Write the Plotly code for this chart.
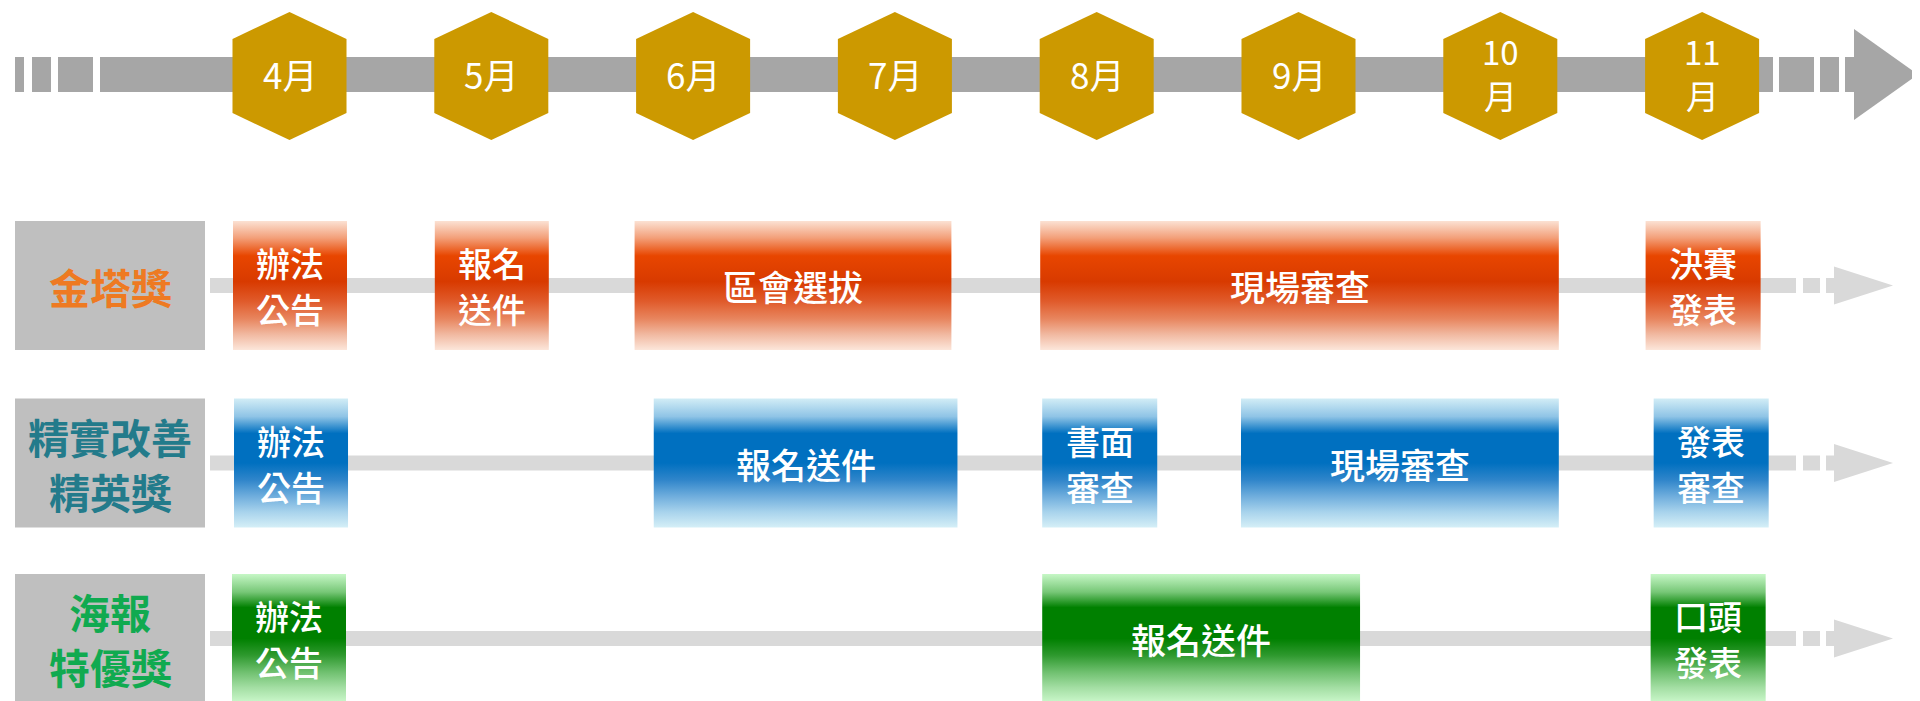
import plotly.graph_objects as go

# ---------------- data ----------------
months = [4, 5, 6, 7, 8, 9, 10, 11]
month_labels = ["4月", "5月", "6月", "7月", "8月", "9月", "10月", "11月"]

award_labels = ["金塔獎", "精實改善\n精英獎", "海報\n特優獎"]

gold_tasks = ["辦法公告", "報名送件", "區會選拔", "現場審查", "決賽發表"]
gold_start = [3.72, 4.72, 5.71, 7.72, 10.72]
gold_end = [4.285, 5.285, 7.28, 10.29, 11.29]

lean_tasks = ["辦法公告", "報名送件", "書面審查", "現場審查", "發表審查"]
lean_start = [3.725, 5.805, 7.73, 8.715, 10.76]
lean_end = [4.29, 7.31, 8.30, 10.29, 11.33]

poster_tasks = ["辦法公告", "報名送件", "口頭發表"]
poster_start = [3.715, 7.73, 10.745]
poster_end = [4.28, 9.305, 11.315]

# ---------------- layout / style ----------------
W, H = 1920, 701
PAGE_MARGIN = 8          # default body margin of the html page
PX_PER_MONTH = 201.8
FIRST_PX = 289.5
FONT = "Noto Sans CJK TC"


def px2m(px):
    return months[0] + (px - FIRST_PX) / PX_PER_MONTH


GOLD = "#CC9900"
TL_GRAY = "#A6A6A6"
ROW_GRAY = "#D9D9D9"
LABEL_BG = "#BFBFBF"
label_colors = ["#EE7A22", "#237B8B", "#10AA50"]


def flip(cs):
    return [[1 - p, c] for p, c in reversed(cs)]


grad_orange = flip([[0, "#FBE1D3"], [0.13, "#F3A07A"], [0.27, "#E84600"], [0.47, "#D83A00"],
                    [0.62, "#E05A2A"], [0.76, "#E8865F"], [0.88, "#F1B9A1"], [1, "#FCE6DA"]])
grad_blue = flip([[0, "#D2EDF6"], [0.14, "#8FC4E6"], [0.27, "#0070C0"], [0.5, "#0070C0"],
                  [0.63, "#2F85CA"], [0.76, "#70AEDD"], [0.88, "#A8D3EC"], [1, "#D5EFF7"]])
grad_green = flip([[0, "#C6F7C6"], [0.14, "#77C777"], [0.26, "#008000"], [0.5, "#008000"],
                   [0.63, "#2E992E"], [0.76, "#6FC06F"], [0.88, "#A3DEA3"], [1, "#CCF8CC"]])

rows = [
    (gold_tasks, gold_start, gold_end, grad_orange),
    (lean_tasks, lean_start, lean_end, grad_blue),
    (poster_tasks, poster_start, poster_end, grad_green),
]
row_centers = [285.5, 463, 638.5]
BOX_HH = 64.5

TL_Y, TL_HH = 74.5, 17.5
HEX_Y, HEX_HW, HEX_TOP, HEX_SH = 76, 0.2825, 64, 37

fig = go.Figure()
shapes = []
annotations = []


def rect(x0, x1, y0, y1, color, layer="below"):
    return dict(type="rect", xref="x", yref="y", x0=x0, x1=x1, y0=y0, y1=y1,
                fillcolor=color, line=dict(width=0), layer=layer)


def tri(x0, x1, yc, hh, color):
    return dict(type="path", xref="x", yref="y",
                path=f"M {x0},{yc-hh} L {x1},{yc} L {x0},{yc+hh} Z",
                fillcolor=color, line=dict(width=0), layer="below")


def text_lines(x, yc, lines, pitch, font):
    """one annotation per line, centred as a block on yc"""
    n = len(lines)
    for i, ln in enumerate(lines):
        annotations.append(dict(x=x, y=yc + (i - (n - 1) / 2) * pitch, xref="x", yref="y",
                                text=ln, showarrow=False, font=font))


# ---- top timeline ----
for a, b in [(15, 24), (32, 51), (58, 93), (100, 1773), (1779, 1814), (1820, 1839), (1845, 1854)]:
    shapes.append(rect(px2m(a), px2m(b), TL_Y - TL_HH, TL_Y + TL_HH, TL_GRAY))
shapes.append(tri(px2m(1854), px2m(1918), TL_Y, 45.5, TL_GRAY))

for m, lab in zip(months, month_labels):
    xs = [m, m + HEX_HW, m + HEX_HW, m, m - HEX_HW, m - HEX_HW, m]
    ys = [HEX_Y - HEX_TOP, HEX_Y - HEX_SH, HEX_Y + HEX_SH, HEX_Y + HEX_TOP,
          HEX_Y + HEX_SH, HEX_Y - HEX_SH, HEX_Y - HEX_TOP]
    fig.add_trace(go.Scatter(x=xs, y=ys, fill="toself", fillcolor=GOLD, mode="lines",
                             line=dict(width=0, color=GOLD), hoverinfo="text", text=lab,
                             showlegend=False))
    if len(lab) <= 2:
        text_lines(m, HEX_Y - 3, [lab], 0, dict(family=FONT, size=35, color="white"))
    else:
        text_lines(m, HEX_Y - 3, [lab[:-1], lab[-1]], 44.5,
                   dict(family=FONT, size=33, color="white"))

# ---- award rows ----
for (tasks, starts, ends, grad), yc, lab, lc in zip(rows, row_centers, award_labels, label_colors):
    # label box
    shapes.append(rect(px2m(15), px2m(205), yc - BOX_HH, yc + BOX_HH, LABEL_BG))
    text_lines(px2m(110), yc, lab.split("\n"), 55,
               dict(family=FONT, size=41, color=lc, weight="bold"))
    # row line and arrow
    shapes.append(rect(px2m(210), px2m(1796), yc - 7.5, yc + 7.5, ROW_GRAY))
    for a, b in [(1803, 1820), (1826, 1834)]:
        shapes.append(rect(px2m(a), px2m(b), yc - 7.5, yc + 7.5, ROW_GRAY))
    shapes.append(tri(px2m(1834), px2m(1893), yc, 19, ROW_GRAY))
    # task boxes
    for t, s, e in zip(tasks, starts, ends):
        fig.add_trace(go.Scatter(
            x=[s, e, e, s, s], y=[yc - BOX_HH, yc - BOX_HH, yc + BOX_HH, yc + BOX_HH, yc - BOX_HH],
            fill="toself", mode="lines", line=dict(width=0, color="rgba(0,0,0,0)"),
            fillgradient=dict(type="vertical", colorscale=grad),
            hoveron="fills", hoverinfo="text", text=t, showlegend=False))
        if (e - s) > 0.8:
            text_lines((s + e) / 2, yc, [t], 0,
                       dict(family=FONT, size=35, color="white", weight=500))
        else:
            text_lines((s + e) / 2, yc, [t[:2], t[2:]], 46,
                       dict(family=FONT, size=34, color="white", weight=500))

fig.update_layout(
    width=W - PAGE_MARGIN, height=H - PAGE_MARGIN,
    margin=dict(l=0, r=0, t=0, b=0),
    paper_bgcolor="white", plot_bgcolor="white",
    xaxis=dict(range=[px2m(PAGE_MARGIN), px2m(W)], visible=False, showgrid=False,
               zeroline=False, fixedrange=True),
    yaxis=dict(range=[H, PAGE_MARGIN], visible=False, showgrid=False, zeroline=False,
               fixedrange=True),
    shapes=shapes, annotations=annotations, showlegend=False,
)

fig.write_html("out.html")
